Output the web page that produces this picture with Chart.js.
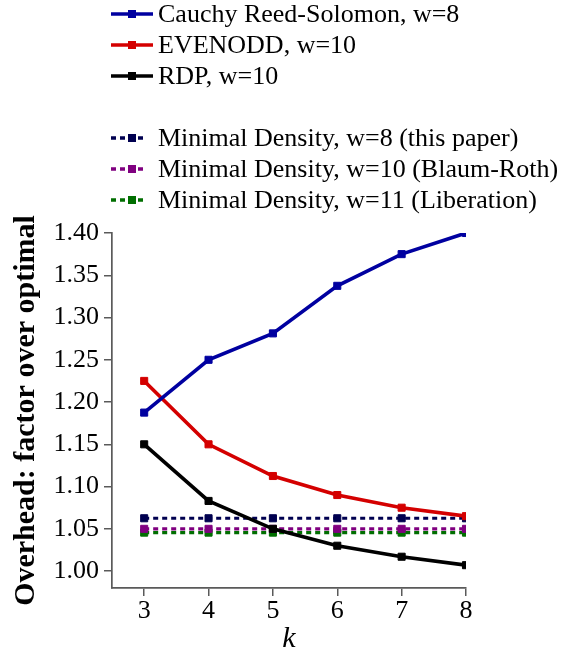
<!DOCTYPE html>
<html>
<head>
<meta charset="utf-8">
<script src="https://cdn.jsdelivr.net/npm/chart.js@4"></script>
<style>
  html, body { margin: 0; padding: 0; background: #ffffff; }
  #wrap { width: 568px; height: 654px; position: relative; }
</style>
</head>
<body>
<div id="wrap"><canvas id="chart"></canvas></div>
<script>
// DATA
var kValues = [3, 4, 5, 6, 7, 8]
var xTicks = [3, 4, 5, 6, 7, 8]
var yTicks = [1.00, 1.05, 1.10, 1.15, 1.20, 1.25, 1.30, 1.35, 1.40]
var cauchyRS = [1.1875, 1.25, 1.28125, 1.3375, 1.375, 1.40]
var evenodd = [1.225, 1.15, 1.1125, 1.09, 1.075, 1.065]
var rdp = [1.15, 1.083, 1.05, 1.03, 1.017, 1.007]
var minDens8 = [1.0625, 1.0625, 1.0625, 1.0625, 1.0625, 1.0625]
var minDens10 = [1.05, 1.05, 1.05, 1.05, 1.05, 1.05]
var minDens11 = [1.0455, 1.0455, 1.0455, 1.0455, 1.0455, 1.0455]

// COLORS
var blue = '#0000a0'
var red = '#d40000'
var black = '#000000'
var navy = '#000050'
var purple = '#800080'
var green = '#006e00'
var axisGrey = '#5a5a5a'

var serif = "'Liberation Serif', 'DejaVu Serif', serif"

function points (ys) {
  return kValues.map(function (k, i) { return { x: k, y: ys[i] } })
}

function series (label, ys, color, dashed) {
  return {
    label: label,
    data: points(ys),
    borderColor: color,
    backgroundColor: color,
    borderWidth: dashed ? 3.2 : 3.6,
    borderDash: dashed ? [5, 4] : [],
    pointStyle: 'rect',
    pointRadius: 5,
    pointBorderWidth: 1,
    pointBackgroundColor: color,
    pointBorderColor: color,
    clip: 0,
    tension: 0
  }
}

// legend drawn on the canvas, with a gap between the two groups
var legendPlugin = {
  id: 'paperLegend',
  afterDraw: function (chart) {
    var ctx = chart.ctx
    ctx.save()
    ctx.font = '26px ' + serif
    ctx.textBaseline = 'middle'
    chart.data.datasets.forEach(function (ds, i) {
      var row = i < 3 ? i : i + 1
      var y = 14 + row * 31
      var dashed = ds.borderDash.length > 0
      var x0 = 111
      var x1 = dashed ? 146 : 153
      ctx.strokeStyle = ds.borderColor
      ctx.lineWidth = 3.5
      ctx.setLineDash(dashed ? [5, 4] : [])
      ctx.beginPath()
      ctx.moveTo(x0, y)
      ctx.lineTo(x1, y)
      ctx.stroke()
      ctx.setLineDash([])
      ctx.fillStyle = ds.borderColor
      ctx.fillRect(132 - 4, y - 4, 8, 8)
      ctx.fillStyle = '#000000'
      ctx.fillText(ds.label, 158, y + 1)
    })
    ctx.restore()
  }
}

var ctx = document.getElementById('chart')
new Chart(ctx, {
  type: 'line',
  data: {
    datasets: [
      series('Cauchy Reed-Solomon, w=8', cauchyRS, blue, false),
      series('EVENODD, w=10', evenodd, red, false),
      series('RDP, w=10', rdp, black, false),
      series('Minimal Density, w=8 (this paper)', minDens8, navy, true),
      series('Minimal Density, w=10 (Blaum-Roth)', minDens10, purple, true),
      series('Minimal Density, w=11 (Liberation)', minDens11, green, true)
    ]
  },
  options: {
    responsive: true,
    maintainAspectRatio: false,
    animation: false,
    layout: { padding: { top: 233, right: 102, left: 0, bottom: 0 } },
    plugins: {
      legend: { display: false },
      tooltip: { enabled: false }
    },
    scales: {
      x: {
        type: 'linear',
        min: 2.5,
        max: 8,
        afterBuildTicks: function (s) { s.ticks = xTicks.map(function (v) { return { value: v } }) },
        afterFit: function (s) { s.height = 66 },
        border: { display: true, color: axisGrey, width: 1.7 },
        grid: { drawOnChartArea: false, drawTicks: true, tickLength: 8, color: axisGrey, lineWidth: 1.5 },
        ticks: {
          color: '#000000',
          font: { family: serif, size: 26 },
          padding: 0,
          maxRotation: 0,
          callback: function (v) { return String(v) }
        },
        title: {
          display: true,
          text: 'k',
          color: '#000000',
          font: { family: serif, size: 30, style: 'italic', lineHeight: 1 },
          padding: { top: 0, bottom: 0 }
        }
      },
      y: {
        type: 'linear',
        min: 0.98,
        max: 1.40,
        afterBuildTicks: function (s) { s.ticks = yTicks.map(function (v) { return { value: v } }) },
        afterFit: function (s) { s.width = 112 },
        border: { display: true, color: axisGrey, width: 1.7 },
        grid: { drawOnChartArea: false, drawTicks: true, tickLength: 8, color: axisGrey, lineWidth: 1.5 },
        ticks: {
          color: '#000000',
          font: { family: serif, size: 26 },
          padding: 5,
          callback: function (v) { return v.toFixed(2) }
        },
        title: {
          display: true,
          text: 'Overhead: factor over optimal',
          color: '#000000',
          font: { family: serif, size: 30, weight: 'bold' },
          padding: { top: 8, bottom: 0 }
        }
      }
    }
  },
  plugins: [legendPlugin]
})
</script>
</body>
</html>
